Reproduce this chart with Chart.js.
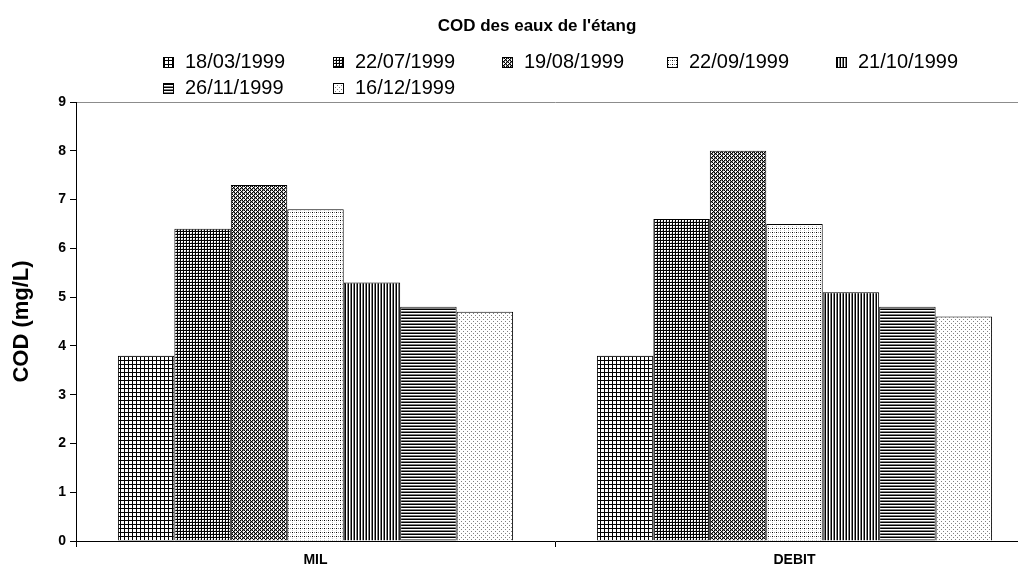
<!DOCTYPE html>
<html>
<head>
<meta charset="utf-8">
<script src="https://cdn.jsdelivr.net/npm/chart.js@4"></script>
<style>
  html, body { margin: 0; padding: 0; background: #fff; overflow: hidden; }
  /* plot runs past the right edge of the window, like the original */
  #wrap { width: 1040px; height: 569px; }
</style>
</head>
<body>
<div id="wrap"><canvas id="codChart"></canvas></div>
<script>
// ==========================
// DATA
// ==========================
const categories = ["MIL", "DEBIT"];
const sampleDates = [
  "18/03/1999",
  "22/07/1999",
  "19/08/1999",
  "22/09/1999",
  "21/10/1999",
  "26/11/1999",
  "16/12/1999",
];
const cod_18_03 = [3.8, 3.8];
const cod_22_07 = [6.4, 6.6];
const cod_19_08 = [7.3, 8.0];
const cod_22_09 = [6.8, 6.5];
const cod_21_10 = [5.3, 5.1];
const cod_26_11 = [4.8, 4.8];
const cod_16_12 = [4.7, 4.6];
const yTicks = [0, 1, 2, 3, 4, 5, 6, 7, 8, 9];

const seriesValues = [
  cod_18_03, cod_22_07, cod_19_08, cod_22_09, cod_21_10, cod_26_11, cod_16_12,
];

// ==========================
// HATCH PATTERNS (black & white fills)
// ==========================
const shade = { k: "#000000", g: "#808080", l: "#c0c0c0", ".": "#ffffff" };

function makePattern(rows) {
  const tile = document.createElement("canvas");
  tile.width = rows[0].length;
  tile.height = rows.length;
  const t = tile.getContext("2d");
  rows.forEach((row, y) => {
    [...row].forEach((ch, x) => {
      t.fillStyle = shade[ch];
      t.fillRect(x, y, 1, 1);
    });
  });
  return document.createElement("canvas").getContext("2d").createPattern(tile, "repeat");
}

const fills = [
  makePattern(["kkkk", "k...", "k...", "k..."]),       // large grid
  makePattern(["kkk", "k..", "k.l"]),                  // small grid
  makePattern(["kgk.", "g.gk", "k.kg", ".kg."]),       // dense stipple
  makePattern(["k.g.", "....", "l...", "...."]),       // dashed rows
  makePattern(["k.g"]),                                 // vertical lines
  makePattern(["k", ".", "g"]),                         // horizontal lines
  makePattern(["....", ".g..", "....", "...g"]),       // sparse dots
];

const FONT = "'Liberation Sans', Arial, sans-serif";

// ==========================
// TITLE + LEGEND (drawn in the top band)
// ==========================
const legendCols = [163, 333, 502, 667, 836];
const legendRows = [57, 83];

const headerPlugin = {
  id: "header",
  afterDraw(chart) {
    const c = chart.ctx;
    c.save();
    c.fillStyle = "#000";
    c.textBaseline = "alphabetic";
    c.textAlign = "center";
    c.font = "bold 17px " + FONT;
    c.fillText("COD des eaux de l'étang", 537, 31);

    c.textAlign = "left";
    c.font = "20px " + FONT;
    chart.data.datasets.forEach((ds, i) => {
      const x = legendCols[i % 5];
      const y = legendRows[Math.floor(i / 5)];
      c.fillStyle = ds.backgroundColor;
      c.fillRect(x, y, 11, 11);
      c.strokeStyle = "#000";
      c.lineWidth = 1;
      c.strokeRect(x + 0.5, y + 0.5, 10, 10);
      c.fillStyle = "#000";
      c.fillText(ds.label, x + 22, y + 11);
    });
    c.restore();
  },
};

// ==========================
// CHART
// ==========================
new Chart(document.getElementById("codChart"), {
  type: "bar",
  data: {
    labels: categories,
    datasets: sampleDates.map((d, i) => ({
      label: d,
      data: seriesValues[i],
      backgroundColor: fills[i],
      borderColor: "#000",
      borderWidth: 1,
      categoryPercentage: 0.825,
      barPercentage: 1,
    })),
  },
  options: {
    responsive: true,
    maintainAspectRatio: false,
    animation: false,
    layout: { padding: { top: 102, right: 6, left: 0, bottom: 0 } },
    plugins: {
      legend: { display: false },
      title: { display: false },
      tooltip: { enabled: false },
    },
    scales: {
      x: {
        afterFit: (s) => { s.height = 28; },
        border: { color: "#000", width: 1 },
        grid: {
          offset: true,
          drawOnChartArea: false,
          tickLength: 6,
          tickColor: "#000",
        },
        ticks: {
          color: "#000",
          padding: 5,
          font: { family: FONT, size: 14, weight: "bold" },
        },
      },
      y: {
        min: 0,
        max: 9,
        afterFit: (s) => { s.width = 76; },
        afterBuildTicks: (s) => { s.ticks = yTicks.map((v) => ({ value: v })); },
        border: { color: "#000", width: 1 },
        grid: {
          color: (ctx) => (ctx.tick && ctx.tick.value === 9 ? "#8c8c8c" : "rgba(0,0,0,0)"),
          tickColor: "#000",
          tickLength: 6,
        },
        ticks: {
          color: "#000",
          padding: 4,
          font: { family: FONT, size: 14, weight: "bold" },
        },
        title: {
          display: true,
          text: "COD (mg/L)",
          color: "#000",
          padding: { top: 9, bottom: 0 },
          font: { family: FONT, size: 22, weight: "bold" },
        },
      },
    },
  },
  plugins: [headerPlugin],
});
</script>
</body>
</html>
